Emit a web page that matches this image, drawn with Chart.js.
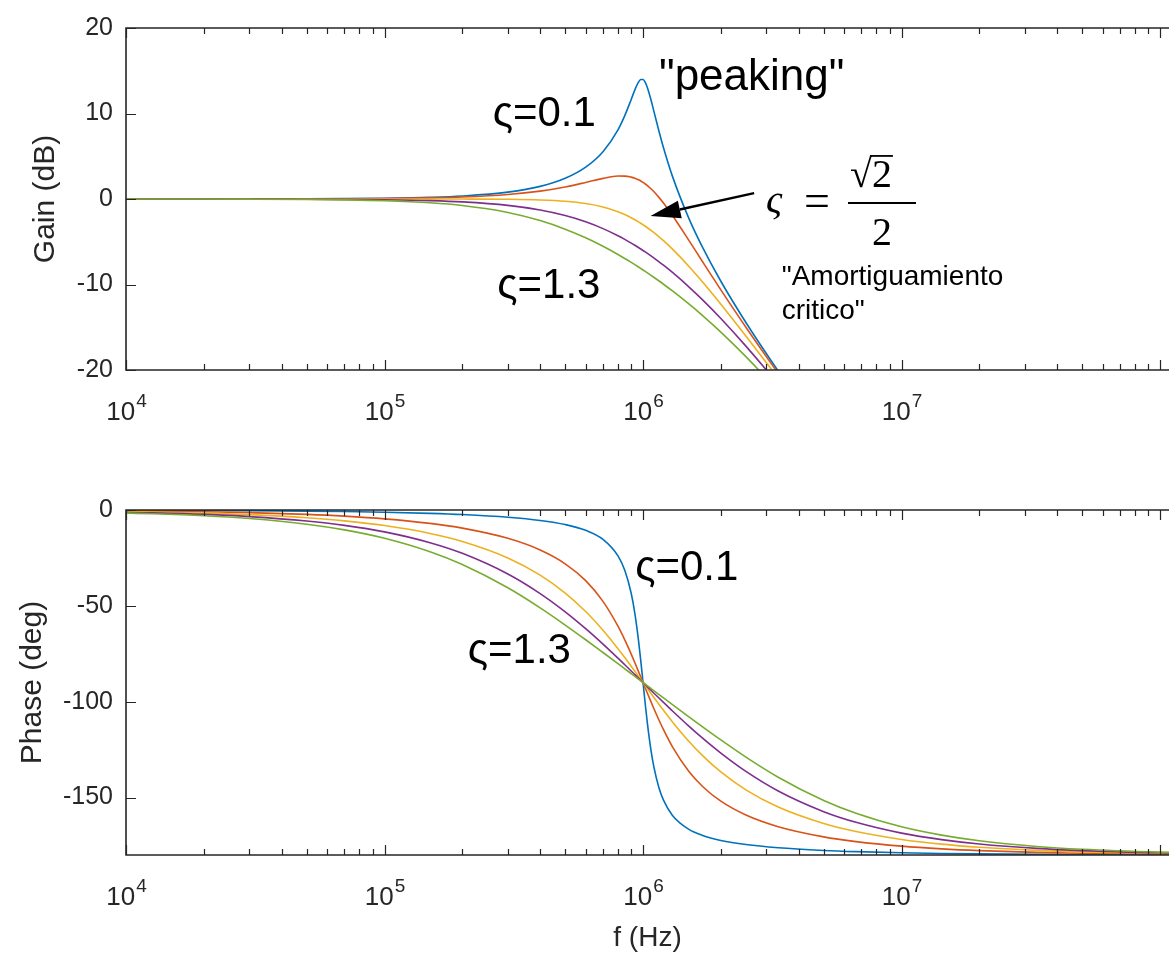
<!DOCTYPE html>
<html>
<head>
<meta charset="utf-8">
<script src="https://cdn.jsdelivr.net/npm/chart.js@4.4.1/dist/chart.umd.min.js"></script>
<style>
  html, body { margin: 0; padding: 0; background: #fff; overflow: hidden; }
  #wrap { position: relative; width: 1169px; height: 953px; }
  .box { position: absolute; left: 0; width: 1169px; }
  #gainBox { top: 0; height: 440px; }
  #phaseBox { top: 440px; height: 513px; }
</style>
</head>
<body>
<div id="wrap">
  <div class="box" id="gainBox"><canvas id="gainChart"></canvas></div>
  <div class="box" id="phaseBox"><canvas id="phaseChart"></canvas></div>
</div>
<script>
// ---- data (f0 = 1 MHz) ----
const freqHz = [1e4, 2e4, 3e4, 5e4, 7e4, 1e5, 1.5e5, 2e5, 3e5, 4e5, 5e5, 6e5, 7e5, 8e5, 8.5e5, 9e5, 9.3e5, 9.6e5, 9.8e5,
  1e6, 1.02e6, 1.04e6, 1.07e6, 1.1e6, 1.15e6, 1.2e6, 1.3e6, 1.5e6, 1.7e6, 2e6, 2.5e6, 3.333e6, 5e6, 6.667e6,
  1e7, 1.4286e7, 2e7, 3.333e7, 5e7, 1e8, 1.5e8];

const zetaNames = ["ς=0.1", "ς=0.4", "ς=0.707", "ς=1", "ς=1.3"];

// gain in dB
const gain01 = [0.001, 0.003, 0.008, 0.021, 0.042, 0.086, 0.194, 0.347, 0.800, 1.475, 2.422, 3.726, 5.533, 8.091, 9.751, 11.643, 12.770, 13.664, 13.981,
  13.979, 13.640, 13.017, 11.753, 10.339, 8.044, 6.000, 2.646, -2.181, -5.668, -9.619, -14.442, -20.115, -27.612, -32.762,
  -39.915, -46.154, -52.020, -60.907, -67.956, -79.999, -87.044];
const gain04 = [0.001, 0.002, 0.005, 0.015, 0.029, 0.060, 0.133, 0.235, 0.527, 0.926, 1.412, 1.938, 2.413, 2.682, 2.681, 2.561, 2.428, 2.248, 2.103,
  1.938, 1.756, 1.556, 1.228, 0.870, 0.221, -0.474, -1.925, -4.775, -7.341, -10.630, -14.992, -20.388, -27.724, -32.823,
  -39.941, -46.167, -52.026, -60.910, -67.957, -79.999, -87.044];
const gain07 = [0, 0, 0, 0, 0, 0, -0.002, -0.007, -0.035, -0.110, -0.263, -0.529, -0.935, -1.491, -1.824, -2.191, -2.426, -2.670, -2.838,
  -3.010, -3.186, -3.364, -3.638, -3.917, -4.392, -4.876, -5.861, -7.827, -9.709, -12.304, -16.027, -20.950, -27.966, -32.958,
  -40.000, -46.196, -52.041, -60.915, -67.959, -80.000, -87.044];
const gain10 = [-0.001, -0.003, -0.008, -0.022, -0.043, -0.086, -0.193, -0.341, -0.749, -1.289, -1.938, -2.671, -3.464, -4.297, -4.723, -5.154, -5.413, -5.673, -5.847,
  -6.021, -6.194, -6.368, -6.628, -6.888, -7.319, -7.748, -8.595, -10.238, -11.799, -13.979, -17.207, -21.664, -28.300, -33.149,
  -40.086, -46.239, -52.063, -60.923, -67.962, -80.001, -87.045];
const gain13 = [-0.002, -0.008, -0.019, -0.051, -0.100, -0.202, -0.444, -0.763, -1.573, -2.522, -3.527, -4.538, -5.530, -6.489, -6.956, -7.413, -7.683, -7.949, -8.125,
  -8.299, -8.472, -8.644, -8.899, -9.151, -9.564, -9.969, -10.756, -12.246, -13.638, -15.568, -18.439, -22.488, -28.722, -33.400,
  -40.202, -46.296, -52.092, -60.934, -67.967, -80.002, -87.045];

// phase in degrees
const phase01 = [-0.115, -0.229, -0.344, -0.574, -0.806, -1.157, -1.758, -2.386, -3.772, -5.440, -7.595, -10.620, -15.350, -23.962, -31.490, -43.452, -54.008, -67.792, -78.578,
  -90.000, -101.202, -111.481, -124.102, -133.668, -144.503, -151.389, -159.352, -166.504, -169.802, -172.405, -174.560, -176.228, -177.614, -178.242,
  -178.843, -179.194, -179.426, -179.656, -179.771, -179.885, -179.924];
const phase04 = [-0.458, -0.917, -1.376, -2.296, -3.221, -4.620, -6.999, -9.462, -14.775, -20.855, -28.072, -36.870, -47.676, -60.642, -67.804, -75.217, -79.708, -84.171, -87.108,
  -90.000, -92.835, -95.602, -99.608, -103.423, -109.316, -114.623, -123.563, -136.169, -144.261, -151.928, -159.145, -165.225, -170.538, -173.001,
  -175.380, -176.779, -177.704, -178.624, -179.083, -179.542, -179.694];
const phase07 = [-0.810, -1.621, -2.432, -4.055, -5.681, -8.130, -12.244, -16.416, -24.995, -33.958, -43.315, -52.975, -62.746, -72.356, -77.000, -81.510, -84.135, -86.695, -88.363,
  -90.000, -91.604, -93.176, -95.470, -97.688, -101.216, -104.535, -110.571, -120.509, -128.172, -136.685, -146.042, -155.005, -163.584, -167.756,
  -171.870, -174.319, -175.945, -177.568, -178.379, -179.190, -179.460];
const phase10 = [-1.146, -2.292, -3.437, -5.725, -8.008, -11.421, -17.062, -22.619, -33.398, -43.603, -53.130, -61.928, -69.984, -77.320, -80.729, -83.974, -85.846, -87.661, -88.843,
  -90.000, -91.134, -92.247, -93.874, -95.453, -97.982, -100.389, -104.863, -112.620, -119.069, -126.870, -136.397, -146.602, -157.381, -162.938,
  -168.579, -171.992, -174.275, -176.563, -177.708, -178.854, -179.236];
const phase13 = [-1.490, -2.978, -4.464, -7.425, -10.365, -14.715, -21.749, -28.443, -40.601, -51.072, -60.018, -67.695, -74.354, -80.181, -82.843, -85.358, -86.802, -88.201, -89.110,
  -90.000, -90.873, -91.729, -92.982, -94.200, -96.156, -98.027, -101.538, -107.768, -113.151, -119.982, -128.928, -139.399, -151.557, -158.251,
  -165.285, -169.635, -172.575, -175.536, -177.022, -178.510, -179.007];

// ticks
const freqTicks = [1e4, 1e5, 1e6, 1e7];
const gainTicks = [-20, -10, 0, 10, 20];
const phaseTicks = [-150, -100, -50, 0];

// matlab default line colours
const lineColors = ["#0072BD", "#D95319", "#EDB120", "#7E2F8E", "#77AC30"];

const FONT = '"Liberation Sans", Arial, Helvetica, sans-serif';
const SERIF = '"Liberation Serif", "Times New Roman", serif';
const AXC = "#262626";
const X_MIN = 1e4, X_MAX = 1.083e8;

Chart.defaults.font.family = FONT;

function makeSets(list){
  return list.map((vals, i) => ({
    label: zetaNames[i],
    data: freqHz.map((f, k) => ({ x: f, y: vals[k] })),
    borderColor: lineColors[i],
    backgroundColor: lineColors[i],
    borderWidth: 1.6,
    pointRadius: 0,
    fill: false,
    cubicInterpolationMode: "monotone",
    order: list.length - i   // later series on top, like matlab
  }));
}

// frame, inward ticks, 10^n labels, axis titles
const bodeFrame = {
  id: "bodeFrame",
  afterDraw(chart, args, o){
    const { ctx, chartArea: a, scales: { x, y } } = chart;
    ctx.save();
    ctx.strokeStyle = AXC;
    ctx.lineWidth = 1.6;
    ctx.beginPath();
    ctx.moveTo(a.right + 4, a.top); ctx.lineTo(a.left, a.top);
    ctx.lineTo(a.left, a.bottom); ctx.lineTo(a.right + 4, a.bottom);
    ctx.stroke();

    ctx.lineWidth = 1.2;
    ctx.beginPath();
    for(let e = 4; e <= 8; e++){
      for(let m = 1; m <= 9; m++){
        const v = m * Math.pow(10, e);
        if(v < X_MIN || v > X_MAX) continue;
        const px = Math.round(x.getPixelForValue(v)) + 0.5;
        const len = m === 1 ? 10 : 6;
        ctx.moveTo(px, a.bottom); ctx.lineTo(px, a.bottom - len);
        ctx.moveTo(px, a.top); ctx.lineTo(px, a.top + len);
      }
    }
    y.ticks.forEach(t => {
      const py = Math.round(y.getPixelForValue(t.value)) + 0.5;
      ctx.moveTo(a.left, py); ctx.lineTo(a.left + 10, py);
    });
    ctx.stroke();

    // 10^n labels
    ctx.fillStyle = AXC;
    ctx.textAlign = "left";
    ctx.textBaseline = "alphabetic";
    freqTicks.forEach(f => {
      const ex = String(Math.round(Math.log10(f)));
      const px = x.getPixelForValue(f);
      ctx.font = "26px " + FONT;
      const w1 = ctx.measureText("10").width;
      ctx.font = "19px " + FONT;
      const w2 = ctx.measureText(ex).width;
      const x0 = px - (w1 + w2) / 2;
      ctx.font = "26px " + FONT;
      ctx.fillText("10", x0, a.bottom + 50);
      ctx.font = "19px " + FONT;
      ctx.fillText(ex, x0 + w1 + 1, a.bottom + 37);
    });

    // y title
    ctx.save();
    ctx.translate(o.yTitleX, (a.top + a.bottom) / 2);
    ctx.rotate(-Math.PI / 2);
    ctx.textAlign = "center";
    ctx.textBaseline = "middle";
    ctx.font = "30px " + FONT;
    ctx.fillText(o.yTitle, 0, 0);
    ctx.restore();

    if(o.xTitle){
      ctx.textAlign = "center";
      ctx.font = "28px " + FONT;
      ctx.fillText(o.xTitle, (a.left + a.right) / 2, a.bottom + 91);
    }
    ctx.restore();
  }
};

// annotations on the gain plot
const gainNotes = {
  id: "gainNotes",
  afterDraw(chart){
    const { ctx, scales: { x, y } } = chart;
    const P = (f, v) => [x.getPixelForValue(f), y.getPixelForValue(v)];
    ctx.save();
    ctx.fillStyle = "#000";
    ctx.strokeStyle = "#000";
    ctx.textAlign = "left";
    ctx.textBaseline = "alphabetic";

    ctx.font = "42px " + FONT;
    let p = P(2.62e5, 8.5);  ctx.fillText("ς=0.1", p[0], p[1]);
    p = P(2.73e5, -11.6);    ctx.fillText("ς=1.3", p[0], p[1]);
    ctx.font = "44px " + FONT;
    p = P(1.153e6, 12.76);   ctx.fillText('"peaking"', p[0], p[1]);

    // arrow
    const t = P(2.69e6, 0.69), h = P(1.069e6, -1.99);
    const ang = Math.atan2(h[1] - t[1], h[0] - t[0]);
    const hl = 30, hw = 9;
    const bx = h[0] - hl * Math.cos(ang), by = h[1] - hl * Math.sin(ang);
    ctx.lineWidth = 2.5;
    ctx.beginPath(); ctx.moveTo(t[0], t[1]); ctx.lineTo(bx, by); ctx.stroke();
    ctx.beginPath();
    ctx.moveTo(h[0], h[1]);
    ctx.lineTo(bx + hw * Math.sin(ang), by - hw * Math.cos(ang));
    ctx.lineTo(bx - hw * Math.sin(ang), by + hw * Math.cos(ang));
    ctx.closePath(); ctx.fill();

    // varsigma = sqrt(2)/2
    const e = P(2.99e6, -0.46), x0 = e[0], y0 = e[1];
    ctx.font = "italic 40px " + SERIF;
    ctx.fillText("ς", x0, y0 + 10);
    ctx.font = "46px " + SERIF;
    ctx.fillText("=", x0 + 38, y0 + 13);
    ctx.font = "40px " + SERIF;
    const rad = ctx.measureText("√");
    const two = ctx.measureText("2").width;
    ctx.fillText("√", x0 + 84, y0 - 16);
    ctx.fillText("2", x0 + 84 + rad.width, y0 - 16);
    ctx.lineWidth = 1.8;
    const vy = y0 - 16 - rad.actualBoundingBoxAscent + 1;
    ctx.beginPath(); ctx.moveTo(x0 + 84 + rad.width - 2, vy); ctx.lineTo(x0 + 84 + rad.width + two + 1, vy); ctx.stroke();
    ctx.lineWidth = 2;
    ctx.beginPath(); ctx.moveTo(x0 + 82, y0); ctx.lineTo(x0 + 150, y0); ctx.stroke();
    ctx.textAlign = "center";
    ctx.fillText("2", x0 + 116, y0 + 42);

    ctx.textAlign = "left";
    ctx.font = "28px " + FONT;
    p = P(3.44e6, -10.0);  ctx.fillText('"Amortiguamiento', p[0], p[1]);
    p = P(3.44e6, -14.0);  ctx.fillText('critico"', p[0], p[1]);
    ctx.restore();
  }
};

const phaseNotes = {
  id: "phaseNotes",
  afterDraw(chart){
    const { ctx, scales: { x, y } } = chart;
    ctx.save();
    ctx.fillStyle = "#000";
    ctx.textAlign = "left";
    ctx.textBaseline = "alphabetic";
    ctx.font = "42px " + FONT;
    ctx.fillText("ς=0.1", x.getPixelForValue(9.33e5), y.getPixelForValue(-36.5));
    ctx.fillText("ς=1.3", x.getPixelForValue(2.10e5), y.getPixelForValue(-79.8));
    ctx.restore();
  }
};

function makeChart(id, sets, yMin, yMax, yTicks, pad, xAxisH, frameOpts, notes){
  return new Chart(document.getElementById(id), {
    type: "line",
    data: { datasets: sets },
    options: {
      responsive: true,
      maintainAspectRatio: false,
      animation: false,
      devicePixelRatio: 1,
      events: [],
      layout: { padding: { top: pad, left: 0, right: 0, bottom: 0 } },
      plugins: { legend: { display: false }, tooltip: { enabled: false }, bodeFrame: frameOpts },
      scales: {
        x: {
          type: "logarithmic", min: X_MIN, max: X_MAX,
          ticks: { display: false },
          grid: { display: false, drawTicks: false },
          border: { display: false },
          afterFit: s => { s.height = xAxisH; }
        },
        y: {
          type: "linear", min: yMin, max: yMax,
          afterBuildTicks: s => { s.ticks = yTicks.map(v => ({ value: v })); },
          ticks: { color: AXC, font: { size: 25, family: FONT }, padding: 13 },
          grid: { display: false, drawTicks: false },
          border: { display: false },
          afterFit: s => { s.width = 126; }
        }
      }
    },
    plugins: [bodeFrame, notes]
  });
}

makeChart("gainChart", makeSets([gain01, gain04, gain07, gain10, gain13]), -20, 20, gainTicks,
  22, 70, { yTitle: "Gain (dB)", yTitleX: 46 }, gainNotes);
makeChart("phaseChart", makeSets([phase01, phase04, phase07, phase10, phase13]), -180, 0, phaseTicks,
  70, 98, { yTitle: "Phase (deg)", yTitleX: 33, xTitle: "f (Hz)" }, phaseNotes);
</script>
</body>
</html>
